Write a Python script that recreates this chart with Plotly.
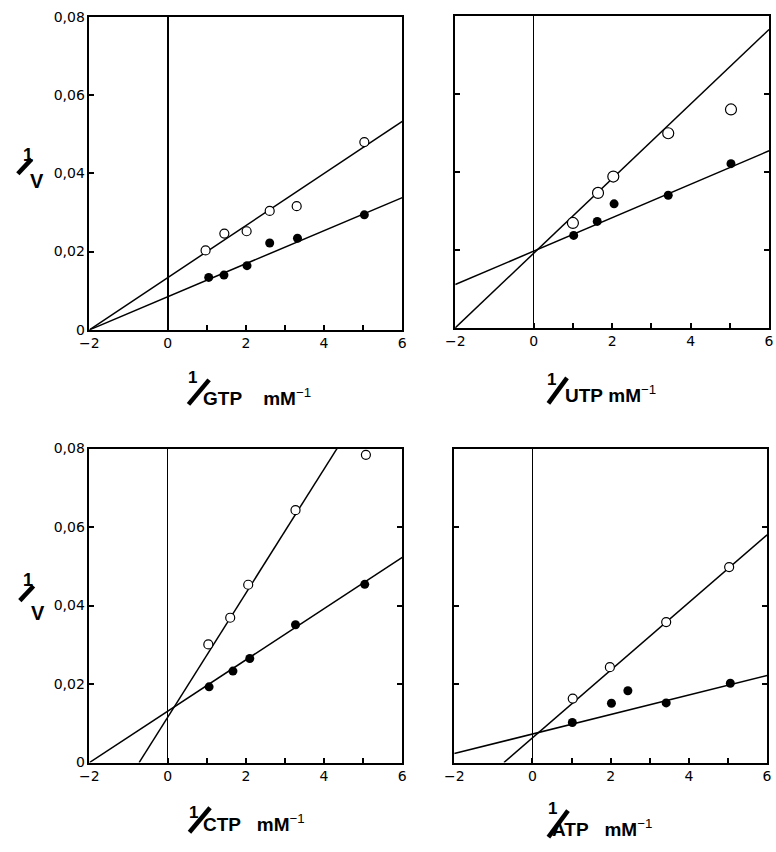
import plotly.graph_objects as go

W, H = 776, 852

# ---------------- data ----------------
# GTP panel
gtp_open_x = [0.97, 1.45, 2.02, 2.61, 3.30, 5.03]
gtp_open_y = [0.0203, 0.0246, 0.0252, 0.0304, 0.0316, 0.0480]
gtp_fill_x = [1.05, 1.44, 2.03, 2.61, 3.32, 5.03]
gtp_fill_y = [0.0134, 0.0140, 0.0164, 0.0222, 0.0234, 0.0294]
gtp_open_fit_x = [-2.0, 6.0]
gtp_open_fit_y = [0.0, 0.0533]
gtp_fill_fit_x = [-2.0, 6.0]
gtp_fill_fit_y = [0.0, 0.0338]

# UTP panel
utp_open_x = [1.00, 1.64, 2.03, 3.43, 5.03]
utp_open_y = [0.0269, 0.0346, 0.0388, 0.0499, 0.0560]
utp_fill_x = [1.02, 1.62, 2.05, 3.43, 5.03]
utp_fill_y = [0.0237, 0.0273, 0.0318, 0.0340, 0.0421]
utp_open_fit_x = [-2.0, 6.0]
utp_open_fit_y = [0.0, 0.0765]
utp_fill_fit_x = [-2.0, 6.0]
utp_fill_fit_y = [0.0111, 0.0454]

# CTP panel
ctp_open_x = [1.04, 1.60, 2.06, 3.27, 5.07]
ctp_open_y = [0.0301, 0.0369, 0.0453, 0.0643, 0.0784]
ctp_fill_x = [1.06, 1.67, 2.10, 3.27, 5.04]
ctp_fill_y = [0.0193, 0.0233, 0.0265, 0.0351, 0.0454]
ctp_open_fit_x = [-0.73, 4.33]
ctp_open_fit_y = [0.0, 0.0800]
ctp_fill_fit_x = [-2.0, 6.0]
ctp_fill_fit_y = [0.0, 0.0523]

# ATP panel
atp_open_x = [1.03, 1.98, 3.42, 5.03]
atp_open_y = [0.0163, 0.0243, 0.0358, 0.0498]
atp_fill_x = [1.02, 2.02, 2.44, 3.42, 5.06]
atp_fill_y = [0.0102, 0.0151, 0.0183, 0.0152, 0.0202]
atp_open_fit_x = [-0.73, 6.0]
atp_open_fit_y = [0.0, 0.0580]
atp_fill_fit_x = [-2.0, 6.0]
atp_fill_fit_y = [0.0023, 0.0222]

x_tickvals = [-2, 0, 2, 4, 6]
x_ticktext = ["\u22122", "0", "2", "4", "6"]
x_minor_tickvals = [1, 3, 5]
y_tickvals = [0, 0.02, 0.04, 0.06, 0.08]
y_ticktext = ["0", "0,02", "0,04", "0,06", "0,08"]

x_titles = ["GTP", "UTP", "CTP", "ATP"]

# ---------------- figure ----------------
fig = go.Figure()

panels = [
    ("x", "y", gtp_open_x, gtp_open_y, gtp_fill_x, gtp_fill_y,
     gtp_open_fit_x, gtp_open_fit_y, gtp_fill_fit_x, gtp_fill_fit_y, 9),
    ("x2", "y2", utp_open_x, utp_open_y, utp_fill_x, utp_fill_y,
     utp_open_fit_x, utp_open_fit_y, utp_fill_fit_x, utp_fill_fit_y, 11),
    ("x3", "y3", ctp_open_x, ctp_open_y, ctp_fill_x, ctp_fill_y,
     ctp_open_fit_x, ctp_open_fit_y, ctp_fill_fit_x, ctp_fill_fit_y, 9),
    ("x4", "y4", atp_open_x, atp_open_y, atp_fill_x, atp_fill_y,
     atp_open_fit_x, atp_open_fit_y, atp_fill_fit_x, atp_fill_fit_y, 9),
]

for (xa, ya, ox, oy, fx, fy, ofx, ofy, ffx, ffy, osz) in panels:
    fig.add_trace(go.Scatter(x=ofx, y=ofy, mode="lines", xaxis=xa, yaxis=ya,
                             line=dict(color="black", width=1.5)))
    fig.add_trace(go.Scatter(x=ffx, y=ffy, mode="lines", xaxis=xa, yaxis=ya,
                             line=dict(color="black", width=1.5)))
    fig.add_trace(go.Scatter(x=ox, y=oy, mode="markers", xaxis=xa, yaxis=ya,
                             marker=dict(symbol="circle", size=osz, color="white",
                                         line=dict(color="black", width=1.2))))
    fig.add_trace(go.Scatter(x=fx, y=fy, mode="markers", xaxis=xa, yaxis=ya,
                             marker=dict(symbol="circle", size=9, color="black",
                                         line=dict(color="black", width=0))))


def px(v):
    return v / W


def py(v):
    return 1 - v / H


tick_font = dict(family="DejaVu Sans", size=14, color="black")

xcommon = dict(range=[-2, 6], showline=True, linecolor="black", linewidth=1.6,
               mirror=True, ticks="inside", ticklen=5, tickwidth=1.5,
               tickcolor="black", tickmode="array", tickvals=x_tickvals,
               ticktext=x_ticktext,
               minor=dict(tickmode="array", tickvals=x_minor_tickvals,
                          ticks="inside", ticklen=5, tickwidth=1.5,
                          tickcolor="black", showgrid=False),
               showgrid=False, zeroline=True, zerolinecolor="black",
               zerolinewidth=1.3, tickfont=tick_font, fixedrange=True)
ycommon = dict(range=[0, 0.08], showline=True, linecolor="black", linewidth=1.6,
               ticks="inside", ticklen=5, tickwidth=1.5, tickcolor="black",
               tickmode="array", tickvals=y_tickvals, ticktext=y_ticktext,
               showgrid=False, zeroline=False, tickfont=tick_font,
               fixedrange=True)

fig.update_layout(
    width=W, height=H, margin=dict(l=0, r=0, t=0, b=0),
    paper_bgcolor="white", plot_bgcolor="white", showlegend=False,
    xaxis=dict(domain=[px(81), px(400)], anchor="y", **xcommon),
    yaxis=dict(domain=[py(328), py(9)], anchor="x", mirror=True,
               showticklabels=True, **ycommon),
    xaxis2=dict(domain=[px(454), px(774)], anchor="y2", **xcommon),
    yaxis2=dict(domain=[py(326), py(8)], anchor="x2", mirror="ticks",
                showticklabels=False, **ycommon),
    xaxis3=dict(domain=[px(81), px(400)], anchor="y3", **xcommon),
    yaxis3=dict(domain=[py(769), py(449)], anchor="x3", mirror="ticks",
                showticklabels=True, **ycommon),
    xaxis4=dict(domain=[px(453), px(772)], anchor="y4", **xcommon),
    yaxis4=dict(domain=[py(769), py(449)], anchor="x4", mirror="ticks",
                showticklabels=False, **ycommon),
)
fig.update_xaxes(zerolinewidth=2, selector=dict(anchor="y"))

title_font = "Liberation Sans"
annotations = []
shapes = []
NB = "\u00a0"


def frac_label(one_c, slash_a, slash_b, text, text_left, text_cy, size=19):
    annotations.append(dict(
        x=px(one_c[0]), y=py(one_c[1]), xref="paper", yref="paper",
        text="<b>1</b>", showarrow=False, xanchor="center", yanchor="middle",
        font=dict(family=title_font, size=17, color="black")))
    shapes.append(dict(
        type="line", xref="paper", yref="paper",
        x0=px(slash_a[0]), y0=py(slash_a[1]), x1=px(slash_b[0]), y1=py(slash_b[1]),
        line=dict(color="black", width=4.5)))
    annotations.append(dict(
        x=px(text_left), y=py(text_cy), xref="paper", yref="paper",
        text=text, showarrow=False, xanchor="left", yanchor="middle",
        font=dict(family=title_font, size=size, color="black")))


# x-axis titles
frac_label((186, 377), (182, 404), (203, 379),
           "<b>%s%smM</b><sup>\u22121</sup>" % (x_titles[0], NB * 4), 195, 396)
frac_label((552, 379), (549, 403), (568, 377),
           "<b>%s%smM</b><sup>\u22121</sup>" % (x_titles[1], NB * 1), 564, 393)
frac_label((187, 820), (183, 840), (204, 815),
           "<b>%s%smM</b><sup>\u22121</sup>" % (x_titles[2], NB * 3), 195, 831)
frac_label((553, 816), (549, 845), (569, 818),
           "<b>%s%smM</b><sup>\u22121</sup>" % (x_titles[3], NB * 3), 551, 836)

# y-axis titles  (1/V)
for (one_c, sa, sb, v_c) in [((18, 150), (8, 169), (22, 154), (28, 176)),
                             ((18, 583), (10, 604), (24, 589), (29, 617))]:
    annotations.append(dict(
        x=px(one_c[0]), y=py(one_c[1]), xref="paper", yref="paper",
        text="<b>1</b>", showarrow=False, xanchor="center", yanchor="middle",
        font=dict(family=title_font, size=18, color="black")))
    shapes.append(dict(
        type="line", xref="paper", yref="paper",
        x0=px(sa[0]), y0=py(sa[1]), x1=px(sb[0]), y1=py(sb[1]),
        line=dict(color="black", width=4.5)))
    annotations.append(dict(
        x=px(v_c[0]), y=py(v_c[1]), xref="paper", yref="paper",
        text="<b>V</b>", showarrow=False, xanchor="center", yanchor="middle",
        font=dict(family=title_font, size=20, color="black")))

fig.update_layout(annotations=annotations, shapes=shapes)

fig.write_html("out.html", config={"displayModeBar": False},
               post_script="document.body.style.margin='0';")
